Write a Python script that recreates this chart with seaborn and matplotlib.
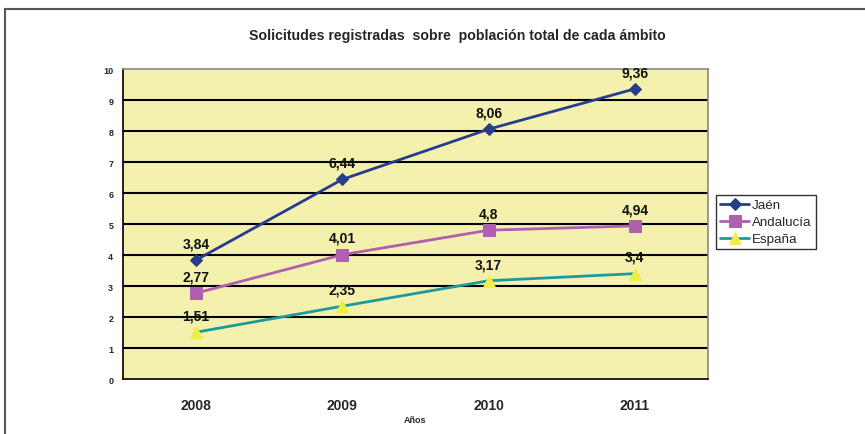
import pandas as pd
import numpy as np
import matplotlib.pyplot as plt
import matplotlib.patches as mpatches
import seaborn as sns

years = ['2008', '2009', '2010', '2011']
jaen = [3.84, 6.44, 8.06, 9.36]
andalucia = [2.77, 4.01, 4.80, 4.94]
espana = [1.51, 2.35, 3.17, 3.40]
labels_jaen = ['3,84', '6,44', '8,06', '9,36']
labels_andalucia = ['2,77', '4,01', '4,8', '4,94']
labels_espana = ['1,51', '2,35', '3,17', '3,4']

sns.set_style('white')
plt.rcParams['font.family'] = ['Liberation Sans', 'DejaVu Sans']

fig = plt.figure(figsize=(8.65, 4.35), dpi=100)
ax = fig.add_axes([0.1422, 0.1264, 0.6763, 0.7126])
ax.set_facecolor('#F4F0AE')

# outer chart frame (cut off at right / bottom like the screenshot)
fig.patches.append(mpatches.Rectangle((5 / 865, -0.1), 1.2, 1 - 10 / 435 + 0.1,
                                      transform=fig.transFigure, fill=False,
                                      edgecolor='#555555', linewidth=1.5))

x = np.arange(len(years))
series = [
    ('Jaén', jaen, labels_jaen, '#263C8C', 'D', 6, '#263C8C'),
    ('Andalucía', andalucia, labels_andalucia, '#B060B0', 's', 8, '#B060B0'),
    ('España', espana, labels_espana, '#1E9A9A', '^', 9, '#EEEE44'),
]
for name, vals, labs, col, mk, ms, mfc in series:
    sns.lineplot(x=x, y=vals, ax=ax, color=col, linewidth=2.0, marker=mk,
                 markersize=ms, markerfacecolor=mfc, markeredgecolor=mfc,
                 label=name, zorder=3)
    for xi, v, t in zip(x, vals, labs):
        ax.annotate(t, (xi, v), xytext=(0, 7), textcoords='offset points',
                    ha='center', va='bottom', fontsize=10, fontweight='bold',
                    color='#111111', zorder=4)

ax.set_xlim(-0.5, 3.5)
ax.set_ylim(0, 10)
ax.set_yticks(range(0, 11))
ax.set_yticklabels([str(i) for i in range(0, 11)], fontsize=6.5, fontweight='bold')
ax.set_xticks(x)
ax.set_xticklabels(years, fontsize=10, fontweight='bold')
ax.set_xticks(np.arange(-0.5, 4, 1), minor=True)
ax.tick_params(axis='x', which='major', length=0, pad=14)
ax.tick_params(axis='x', which='minor', length=5, width=1, color='black', direction='out')
ax.tick_params(axis='y', length=4, width=1, color='black', direction='out', pad=3)
for yv in range(1, 10):
    ax.axhline(yv, color='black', linewidth=1.5, zorder=1)

ax.spines['left'].set_color('black')
ax.spines['bottom'].set_color('black')
ax.spines['top'].set_color('#888888')
ax.spines['right'].set_color('#888888')
for s in ax.spines.values():
    s.set_linewidth(1.2)

ax.set_xlabel('Años', fontsize=6.5, fontweight='bold', labelpad=2)
fig.text(0.529, 0.918, 'Solicitudes registradas  sobre  población total de cada ámbito',
         ha='center', va='center', fontsize=10.2, fontweight='bold')

leg = ax.legend(loc='upper left', bbox_to_anchor=(716 / 865, 1 - 196 / 435),
                bbox_transform=fig.transFigure, frameon=True, fancybox=False,
                fontsize=9.6, handlelength=2.2, handletextpad=0.2,
                borderpad=0.3, labelspacing=0.35, borderaxespad=0)
leg.get_frame().set_edgecolor('black')
leg.get_frame().set_linewidth(1)

fig.savefig('out.png', dpi=100)
